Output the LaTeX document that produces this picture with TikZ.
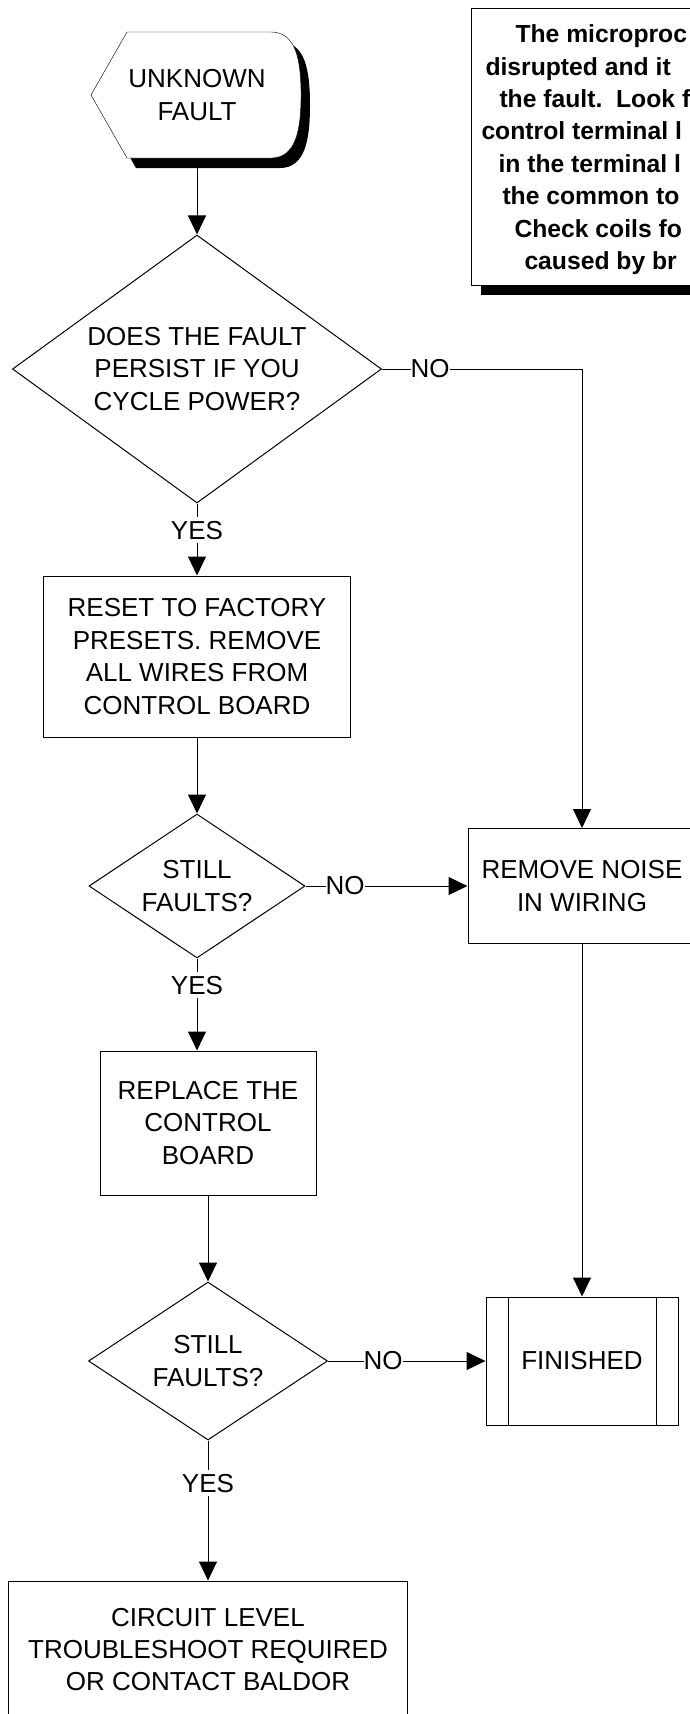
\documentclass[tikz,border=0pt]{standalone}
\usepackage{fontspec}
\setmainfont{Liberation Sans}
\usepackage{tikz}
\usetikzlibrary{shapes,arrows.meta,positioning,backgrounds}

\begin{document}
\begin{tikzpicture}[x=1pt, y=-1pt, node distance=240pt, line width=1pt]
% Define styles
\tikzstyle{start} = [align=center, minimum width=210pt, minimum height=126pt, inner sep=0pt, font=\fontsize{26pt}{32.4pt}\selectfont]
\tikzstyle{process} = [rectangle, draw=black, fill=white, align=center, inner sep=0pt, font=\fontsize{26pt}{32.4pt}\selectfont]
\tikzstyle{decision} = [diamond, draw=black, fill=white, align=center, inner sep=0pt, font=\fontsize{26pt}{32.4pt}\selectfont]
\tikzstyle{notebox} = [rectangle, draw=black, fill=white, minimum width=330pt, minimum height=277pt, anchor=north west]
\tikzstyle{notetext} = [anchor=base west, inner sep=0pt, font=\bfseries\fontsize{24.7pt}{32.4pt}\selectfont]
\tikzstyle{yesno} = [fill=white, inner xsep=0pt, inner ysep=4pt, font=\fontsize{26pt}{32.4pt}\selectfont]
\tikzstyle{arrow} = [->, >={Triangle[length=19pt,width=18pt]}]

\useasboundingbox (0,0) rectangle (690,1714);
\clip (0,0) rectangle (690,1714);

% Create nodes
\node (fault) [start] at (197,95) {UNKNOWN\\FAULT};
\node (dec1) [decision, aspect=1.377, minimum width=369pt, minimum height=268pt, below of=fault, yshift=-34pt] {DOES THE FAULT\\PERSIST IF YOU\\CYCLE POWER?};
\node (reset) [process, minimum width=307pt, minimum height=161pt, below of=dec1, yshift=-47.5pt] {RESET TO FACTORY\\PRESETS. REMOVE\\ALL WIRES FROM\\CONTROL BOARD};
\node (dec2) [decision, aspect=1.5, minimum width=216pt, minimum height=144pt, below of=reset, yshift=10.5pt] {STILL\\FAULTS?};
\node (noise) [process, minimum width=228pt, minimum height=115pt, right of=dec2, xshift=145pt] {REMOVE NOISE\\IN WIRING};
\node (replace) [process, minimum width=216pt, minimum height=144pt, below of=dec2, xshift=11pt, yshift=3pt] {REPLACE THE\\CONTROL\\BOARD};
\node (dec3) [decision, aspect=1.51, minimum width=239pt, minimum height=158pt, below of=replace, yshift=2pt] {STILL\\FAULTS?};
\node (finished) [process, minimum width=192pt, minimum height=128pt, right of=dec3, xshift=134pt] {FINISHED};
\node (baldor) [process, minimum width=399pt, minimum height=137pt, below of=dec3, yshift=-48.5pt] {CIRCUIT LEVEL\\TROUBLESHOOT REQUIRED\\OR CONTACT BALDOR};

% Note in the corner
\node (note) [notebox] at (471,8) {};
\node (note1) [notetext] at (515,42.7) {The microproc};
\node (note2) [notetext] at (485,75.1) {disrupted and it};
\node (note3) [notetext] at (499,107.5) {the fault.\ \ Look f};
\node (note4) [notetext] at (481,139.9) {control terminal l};
\node (note5) [notetext] at (498,172.3) {in the terminal l};
\node (note6) [notetext] at (502,204.7) {the common to};
\node (note7) [notetext] at (514,237.1) {Check coils fo};
\node (note8) [notetext] at (524,269.5) {caused by br};

% Start shape and shadows
\begin{scope}[on background layer]
\fill [shift={(9,10)}] (91,95) -- (127,32) -- (271,32) .. controls (296,32) and (301,60) .. (301,95) .. controls (301,130) and (296,158) .. (271,158) -- (127,158) -- cycle;
\draw [fill=white] (91,95) -- (127,32) -- (271,32) .. controls (296,32) and (301,60) .. (301,95) .. controls (301,130) and (296,158) .. (271,158) -- (127,158) -- cycle;
\fill ([xshift=10pt,yshift=-9pt]note.south west) rectangle ([xshift=10pt,yshift=-9pt]note.north east);
\end{scope}

% Side bars of the finished box
\draw ([xshift=23pt]finished.north west) -- ([xshift=23pt]finished.south west);
\draw ([xshift=-22pt]finished.north east) -- ([xshift=-22pt]finished.south east);

% Draw arrows
\draw [arrow] (fault) -- (dec1);
\draw [arrow] (dec1) -- node[yesno, pos=0.37] {YES} (reset);
\draw [arrow] (dec1) -| node[yesno, pos=0.12] {NO} (noise);
\draw [arrow] (reset) -- (dec2);
\draw [arrow] (dec2) -- node[yesno, pos=0.245] {NO} (noise);
\draw [arrow] (dec2.south) -- node[yesno, pos=0.29] {YES} (dec2.south |- replace.north);
\draw [arrow] (replace) -- (dec3);
\draw [arrow] (dec3) -- node[yesno, pos=0.35] {NO} (finished);
\draw [arrow] (dec3) -- node[yesno, pos=0.305] {YES} (baldor);
\draw [arrow] (noise) -- (finished);
\end{tikzpicture}
\end{document}
